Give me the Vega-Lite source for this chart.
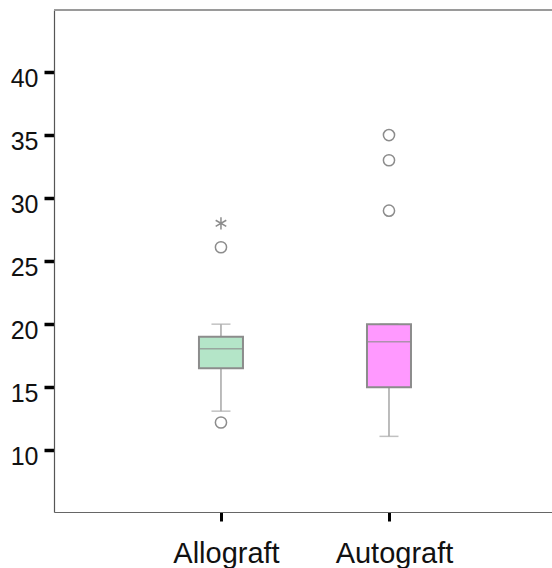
{
  "$schema": "https://vega.github.io/schema/vega-lite/v6.json",
  "width": 498,
  "height": 502,
  "autosize": "none",
  "padding": {"left": 54, "top": 10, "right": 0, "bottom": 56},
  "background": "white",
  "config": {
    "view": {"stroke": null},
    "font": "Liberation Sans"
  },
  "datasets": {
    "boxes": [
      {"graft": "Allograft", "lower": 13.1, "q1": 16.5, "median": 18.05, "q3": 19.0, "upper": 20.0},
      {"graft": "Autograft", "lower": 11.1, "q1": 15.0, "median": 18.6, "q3": 20.0, "upper": 20.0}
    ],
    "outliers": [
      {"graft": "Allograft", "value": 12.2, "kind": "outlier"},
      {"graft": "Allograft", "value": 26.1, "kind": "outlier"},
      {"graft": "Allograft", "value": 28.0, "kind": "extreme"},
      {"graft": "Autograft", "value": 29.0, "kind": "outlier"},
      {"graft": "Autograft", "value": 33.0, "kind": "outlier"},
      {"graft": "Autograft", "value": 35.0, "kind": "outlier"}
    ]
  },
  "encoding": {
    "x": {
      "field": "graft",
      "type": "nominal",
      "sort": ["Allograft", "Autograft"],
      "scale": {"type": "point", "padding": 0.982, "align": 0.506},
      "axis": {
        "title": null,
        "labelAngle": 0,
        "labelFont": "Liberation Sans",
        "labelFontSize": 29,
        "labelColor": "#111111",
        "labelBaseline": "alphabetic",
        "labelPadding": 41,
        "labelOffset": 5,
        "tickSize": 9,
        "tickWidth": 3,
        "tickColor": "#000000",
        "domainColor": "#666666",
        "domainWidth": 1.2,
        "grid": false
      }
    }
  },
  "layer": [
    {
      "data": {"values": [{}]},
      "mark": {"type": "rule", "color": "#9a9a9a", "strokeWidth": 2},
      "encoding": {
        "x": null,
        "y": {"datum": 44.92, "type": "quantitative", "scale": {"domain": [5.1, 44.92], "nice": false, "zero": false}}
      }
    },
    {
      "data": {"name": "boxes"},
      "mark": {"type": "rule", "color": "#a6a6a6", "strokeWidth": 1.5},
      "encoding": {
        "y": {
          "field": "lower",
          "type": "quantitative",
          "scale": {"domain": [5.1, 44.92], "nice": false, "zero": false},
          "axis": {
            "title": null,
            "values": [10, 15, 20, 25, 30, 35, 40],
            "labelFont": "Liberation Sans",
            "labelFontSize": 25,
            "labelColor": "#111111",
            "labelBaseline": "alphabetic",
            "labelOffset": 14,
            "labelPadding": 6,
            "tickSize": 10,
            "tickWidth": 3.5,
            "tickColor": "#000000",
            "domainColor": "#555555",
            "domainWidth": 1.2,
            "grid": false
          }
        },
        "y2": {"field": "upper"}
      }
    },
    {
      "data": {"name": "boxes"},
      "mark": {"type": "tick", "color": "#a6a6a6", "size": 19, "thickness": 1.5, "orient": "horizontal"},
      "encoding": {
        "y": {"field": "lower", "type": "quantitative", "scale": {"domain": [5.1, 44.92], "nice": false, "zero": false}}
      }
    },
    {
      "data": {"name": "boxes"},
      "mark": {"type": "tick", "color": "#a6a6a6", "size": 19, "thickness": 1.5, "orient": "horizontal"},
      "encoding": {
        "y": {"field": "upper", "type": "quantitative", "scale": {"domain": [5.1, 44.92], "nice": false, "zero": false}}
      }
    },
    {
      "data": {"name": "boxes"},
      "mark": {"type": "bar", "size": 44, "stroke": "#8c8c8c", "strokeWidth": 2},
      "encoding": {
        "y": {"field": "q1", "type": "quantitative", "scale": {"domain": [5.1, 44.92], "nice": false, "zero": false}},
        "y2": {"field": "q3"},
        "color": {
          "field": "graft",
          "type": "nominal",
          "scale": {"domain": ["Allograft", "Autograft"], "range": ["#b4e5c8", "#ff99ff"]},
          "legend": null
        }
      }
    },
    {
      "data": {"name": "boxes"},
      "mark": {"type": "tick", "color": "#8c8c8c", "size": 44, "thickness": 1.5, "orient": "horizontal"},
      "encoding": {
        "y": {"field": "median", "type": "quantitative", "scale": {"domain": [5.1, 44.92], "nice": false, "zero": false}}
      }
    },
    {
      "data": {"name": "outliers"},
      "mark": {"type": "point", "filled": false, "stroke": "#8c8c8c", "strokeWidth": 1.5, "opacity": 1},
      "encoding": {
        "y": {"field": "value", "type": "quantitative", "scale": {"domain": [5.1, 44.92], "nice": false, "zero": false}},
        "shape": {
          "field": "kind",
          "type": "nominal",
          "scale": {"domain": ["outlier", "extreme"], "range": ["circle", "M0,-1L0,1M-0.866,-0.5L0.866,0.5M-0.866,0.5L0.866,-0.5"]},
          "legend": null
        },
        "size": {
          "field": "kind",
          "type": "nominal",
          "scale": {"domain": ["outlier", "extreme"], "range": [125, 150]},
          "legend": null
        }
      }
    }
  ]
}
